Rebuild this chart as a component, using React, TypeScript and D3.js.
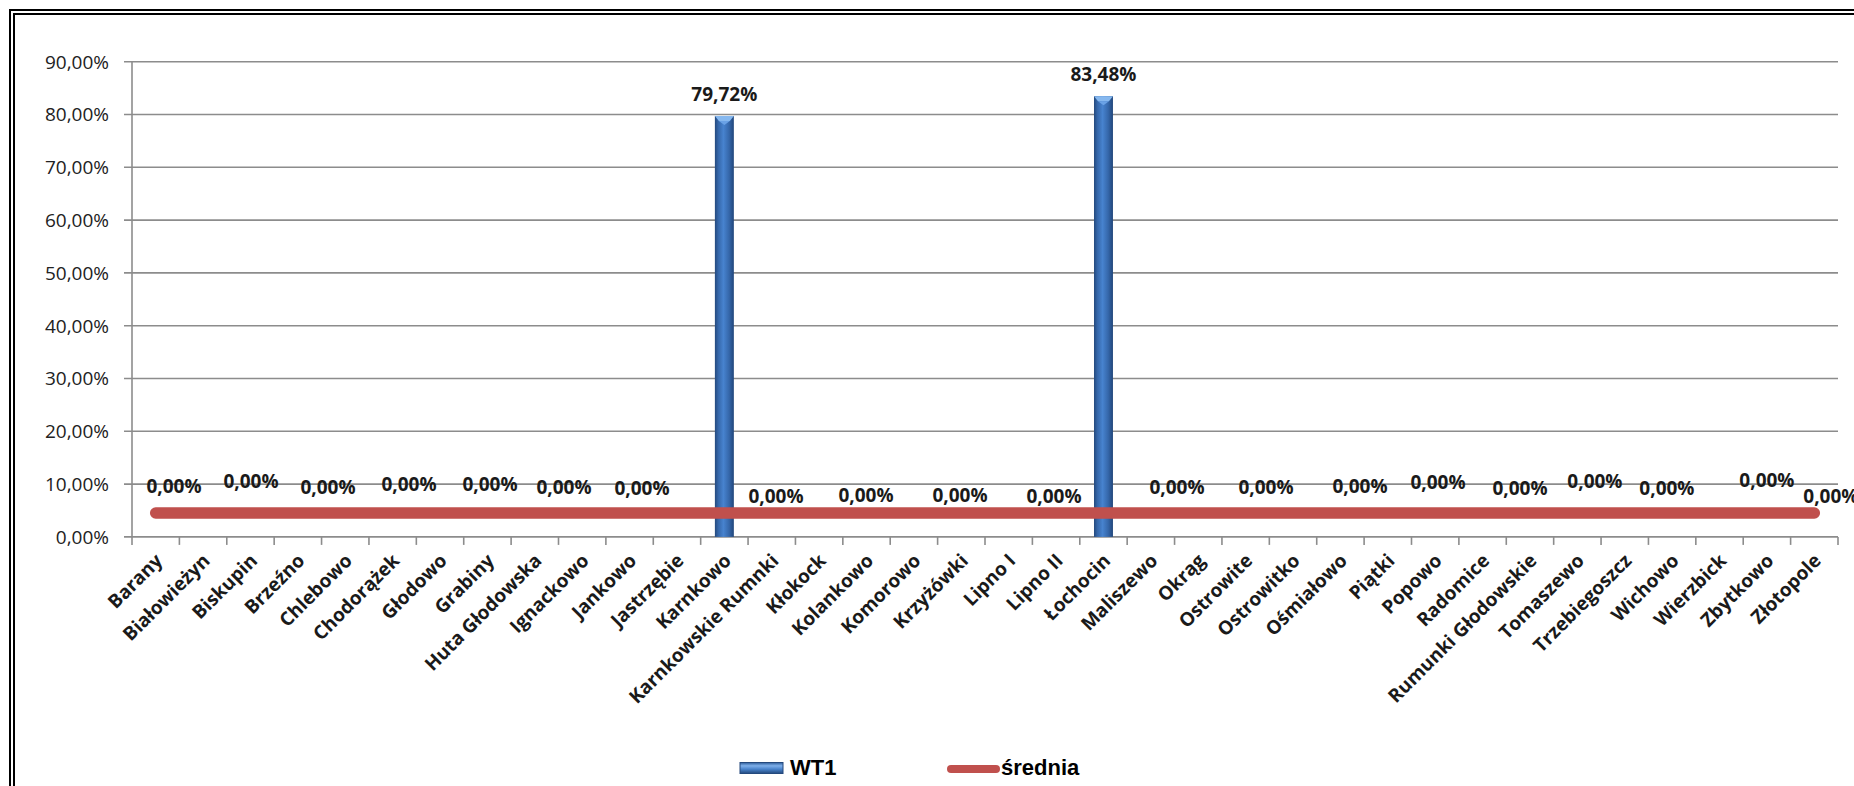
import React from "react";
import * as d3 from "d3";

const categories = [
  "Barany", "Białowieżyn", "Biskupin", "Brzeźno", "Chlebowo", "Chodorążek",
  "Głodowo", "Grabiny", "Huta Głodowska", "Ignackowo", "Jankowo", "Jastrzębie",
  "Karnkowo", "Karnkowskie Rumnki", "Kłokock", "Kolankowo", "Komorowo", "Krzyżówki",
  "Lipno I", "Lipno II", "Łochocin", "Maliszewo", "Okrąg", "Ostrowite",
  "Ostrowitko", "Ośmiałowo", "Piątki", "Popowo", "Radomice", "Rumunki Głodowskie",
  "Tomaszewo", "Trzebiegoszcz", "Wichowo", "Wierzbick", "Zbytkowo", "Złotopole",
];

const wt1Values = [
  0, 0, 0, 0, 0, 0, 0, 0, 0, 0, 0, 0,
  79.72, 0, 0, 0, 0, 0, 0, 0, 83.48, 0, 0, 0,
  0, 0, 0, 0, 0, 0, 0, 0, 0, 0, 0, 0,
];

const sredniaValues = [
  4.53, 4.53, 4.53, 4.53, 4.53, 4.53, 4.53, 4.53, 4.53, 4.53, 4.53, 4.53,
  4.53, 4.53, 4.53, 4.53, 4.53, 4.53, 4.53, 4.53, 4.53, 4.53, 4.53, 4.53,
  4.53, 4.53, 4.53, 4.53, 4.53, 4.53, 4.53, 4.53, 4.53, 4.53, 4.53, 4.53,
];

const yTicks = [0, 10, 20, 30, 40, 50, 60, 70, 80, 90];

// zero-value data labels as placed in the reference (slot in category units, level in % units)
const zeroLabelSlots = [
  0.886, 2.511, 4.136, 5.845, 7.554, 9.116, 10.762,
  13.589, 15.488, 17.472, 19.456,
  22.051, 23.929, 25.913, 27.559, 29.289, 30.871, 32.39, 34.5, 35.85,
];
const zeroLabelLevels = [
  9.6, 10.51, 9.41, 10.0, 10.0, 9.38, 9.17,
  7.77, 7.97, 7.97, 7.77,
  9.51, 9.51, 9.64, 10.36, 9.15, 10.49, 9.15, 10.7, 7.67,
];

const fmt = (v: number) => v.toFixed(2).replace(".", ",") + "%";

const W = 1854;
const H = 786;
const plotLeft = 132;
const plotRight = 1838;
const plotTop = 61.7;
const plotBottom = 536.9;

const FONT = "'Open Sans', 'Noto Sans', sans-serif";

export default function App() {
  const y = d3.scaleLinear().domain([0, 90]).range([plotBottom, plotTop]);
  const x = d3
    .scaleBand<string>()
    .domain(categories)
    .range([plotLeft, plotRight])
    .paddingInner(0.6)
    .paddingOuter(0.3);
  const xi = d3.scaleLinear().domain([0, categories.length]).range([plotLeft, plotRight]);
  const cx = (c: string) => (x(c) as number) + x.bandwidth() / 2;

  const avgLine = d3
    .line<number>()
    .x((_, i) => cx(categories[i]))
    .y((d) => y(d))(sredniaValues) as string;

  const tickFs = 19;
  const lblFs = 19;
  const catFs = 19;

  return (
    <svg
      width={W}
      height={H}
      style={{ position: "absolute", left: 0, top: 0, background: "#fff" }}
    >
      <defs>
        <linearGradient id="barGrad" x1="0" x2="1" y1="0" y2="0">
          <stop offset="0%" stopColor="#24497d" />
          <stop offset="18%" stopColor="#3567aa" />
          <stop offset="45%" stopColor="#4783cf" />
          <stop offset="75%" stopColor="#3567aa" />
          <stop offset="100%" stopColor="#21467a" />
        </linearGradient>
        <linearGradient id="legGrad" x1="0" x2="0" y1="0" y2="1">
          <stop offset="0%" stopColor="#2d5c99" />
          <stop offset="30%" stopColor="#7fb0ea" />
          <stop offset="60%" stopColor="#4a84cc" />
          <stop offset="100%" stopColor="#24497d" />
        </linearGradient>
      </defs>
      <rect x={0} y={0} width={W} height={H} fill="#fff" />
      {/* double frame */}
      <rect x={10} y={10} width={W + 50} height={H + 50} fill="none" stroke="#000" strokeWidth={2} />
      <rect x={14} y={14} width={W + 50} height={H + 50} fill="none" stroke="#000" strokeWidth={2} />

      {/* gridlines */}
      {yTicks.map((t) => (
        <line
          key={"g" + t}
          x1={plotLeft - 8}
          x2={plotRight}
          y1={y(t)}
          y2={y(t)}
          stroke="#8c8c8c"
          strokeWidth={1.6}
        />
      ))}
      {/* y axis */}
      <line x1={plotLeft} x2={plotLeft} y1={plotTop} y2={plotBottom} stroke="#8c8c8c" strokeWidth={1.6} />
      {/* x ticks */}
      {d3.range(categories.length + 1).map((i) => (
        <line
          key={"xt" + i}
          x1={xi(i)}
          x2={xi(i)}
          y1={plotBottom}
          y2={plotBottom + 8}
          stroke="#8c8c8c"
          strokeWidth={1.6}
        />
      ))}
      {/* y tick labels */}
      {yTicks.map((t) => (
        <text
          key={"yl" + t}
          x={109}
          y={y(t) + tickFs * 0.36}
          textAnchor="end"
          fontFamily={FONT}
          fontSize={tickFs}
          fill="#222"
        >
          {fmt(t)}
        </text>
      ))}

      {/* bars */}
      {categories.map((c, i) => {
        const v = wt1Values[i];
        if (v <= 0) return null;
        const bx = x(c) as number;
        const bw = x.bandwidth();
        const top = y(v);
        return (
          <g key={"b" + c}>
            <rect x={bx} y={top} width={bw} height={plotBottom - top} fill="url(#barGrad)" />
            <polygon
              points={`${bx},${top} ${bx + bw},${top} ${bx + bw - 4},${top + 5} ${bx + 4},${top + 5}`}
              fill="#86b8ef"
            />
            <polygon
              points={`${bx + 4},${top + 5} ${bx + bw - 4},${top + 5} ${bx + bw / 2},${top + 9}`}
              fill="#6aa2e6"
            />
          </g>
        );
      })}

      {/* average line */}
      <path d={avgLine} fill="none" stroke="#c0504d" strokeWidth={11.5} strokeLinecap="round" />

      {/* bar labels */}
      {categories.map((c, i) => {
        const v = wt1Values[i];
        if (v <= 0) return null;
        return (
          <text
            key={"bl" + c}
            x={cx(c)}
            y={y(v) - 22 + lblFs * 0.36}
            textAnchor="middle"
            fontFamily={FONT}
            fontWeight="bold"
            fontSize={lblFs}
            fill="#1a1a1a"
          >
            {fmt(v)}
          </text>
        );
      })}
      {/* zero labels */}
      {zeroLabelSlots.map((s, i) => (
        <text
          key={"zl" + i}
          x={xi(s)}
          y={y(zeroLabelLevels[i]) + lblFs * 0.36}
          textAnchor="middle"
          fontFamily={FONT}
          fontWeight="bold"
          fontSize={lblFs}
          fill="#1a1a1a"
        >
          {fmt(0)}
        </text>
      ))}

      {/* category labels */}
      {categories.map((c) => {
        const px = cx(c) + 8;
        const py = plotBottom + 25;
        return (
          <text
            key={"cl" + c}
            transform={`translate(${px},${py}) rotate(-45)`}
            textAnchor="end"
            fontFamily={FONT}
            fontWeight="bold"
            fontSize={catFs}
            fill="#1a1a1a"
          >
            {c}
          </text>
        );
      })}

      {/* legend */}
      <rect x={740} y={762.5} width={43} height={11} fill="url(#legGrad)" stroke="#24497d" strokeWidth={1} />
      <text x={790} y={774.5} fontFamily="'Liberation Sans', Arial, sans-serif" fontWeight="bold" fontSize={22} fill="#000">
        WT1
      </text>
      <line x1={951} x2={996} y1={769} y2={769} stroke="#c0504d" strokeWidth={8} strokeLinecap="round" />
      <text x={1001} y={774.5} fontFamily="'Liberation Sans', Arial, sans-serif" fontWeight="bold" fontSize={22} fill="#000">
        średnia
      </text>
    </svg>
  );
}
